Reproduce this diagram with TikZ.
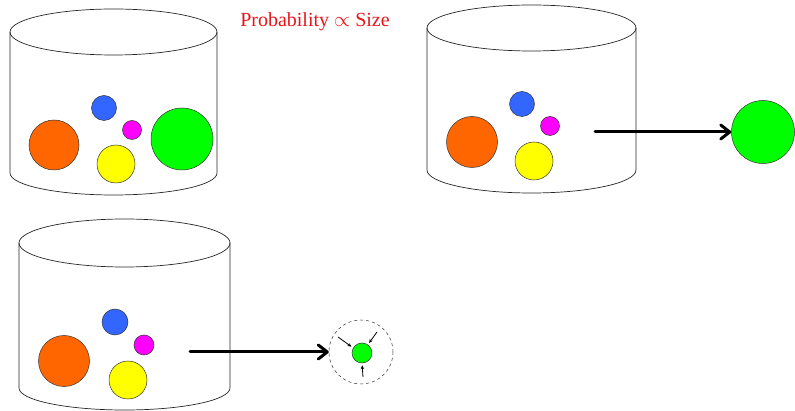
\documentclass[tikz,border=0pt]{standalone}
\usepackage{fontspec}
\setmainfont{Liberation Serif}
\usetikzlibrary{arrows.meta}

\definecolor{ballorange}{HTML}{FF6600}
\definecolor{ballblue}{HTML}{3366FF}
\definecolor{ballmagenta}{HTML}{FF00FF}
\definecolor{ballyellow}{HTML}{FFFF00}
\definecolor{ballgreen}{HTML}{00FF00}
\definecolor{titlered}{HTML}{E8141B}

\tikzset{
  jar/.style={draw=black!85, line width=0.7pt},
  ball/.style={circle, draw=black!80, line width=0.5pt, inner sep=0pt},
  pick/.style={line width=3pt, line cap=round, -{Straight Barb[length=9pt, width=14pt, line cap=round, line join=round]}},
  squeeze/.style={line width=0.8pt, -{Stealth[length=4pt, width=3.5pt]}}
}

\begin{document}
\begin{tikzpicture}[x=1pt, y=-1pt]
 \useasboundingbox (0,0) rectangle (795,411);
 % urn with all five balls
 \draw[jar] (113.5,32) ellipse [x radius=103.5, y radius=23];
 \draw[jar] (10,32) -- (10,173) arc[start angle=180, end angle=0, x radius=103.5, y radius=22] -- (217,32);
 \node[ball, fill=ballorange, minimum size=50pt] (orangeA) at (54,145) {};
 \node[ball, fill=ballblue, minimum size=25pt] (blueA) at (104,108) {};
 \node[ball, fill=ballmagenta, minimum size=19pt] (magentaA) at (132,130) {};
 \node[ball, fill=ballyellow, minimum size=38pt] (yellowA) at (116,164) {};
 \node[ball, fill=ballgreen, minimum size=62pt] (greenA) at (182,139) {};
 \node[text=titlered, font=\fontsize{20}{24}\selectfont] (title) at (315,22) {Probability $\propto$ Size};
 % big ball drawn out
 \draw[jar] (531.5,28) ellipse [x radius=104.5, y radius=23];
 \draw[jar] (427,28) -- (427,170) arc[start angle=180, end angle=0, x radius=104.5, y radius=23] -- (636,28);
 \node[ball, fill=ballblue, minimum size=25pt] (blueB) at (522,104) {};
 \node[ball, fill=ballmagenta, minimum size=19pt] (magentaB) at (550,126) {};
 \node[ball, fill=ballorange, minimum size=51pt] (orangeB) at (472,142) {};
 \node[ball, fill=ballyellow, minimum size=38pt] (yellowB) at (534,161) {};
 \node[ball, fill=ballgreen, minimum size=63pt] (greenB) at (763,132) {};
 \coordinate (startB) at (595,132);
 \draw[pick] (startB) -- (greenB.west);
 % ball shrunk after drawing
 \draw[jar] (124.5,243) ellipse [x radius=105.5, y radius=24];
 \draw[jar] (19,243) -- (19,388) arc[start angle=180, end angle=0, x radius=105.5, y radius=22] -- (230,243);
 \node[ball, fill=ballblue, minimum size=26pt] (blueC) at (115,322) {};
 \node[ball, fill=ballmagenta, minimum size=20pt] (magentaC) at (144,345) {};
 \node[ball, fill=ballorange, minimum size=51pt] (orangeC) at (64,361) {};
 \node[ball, fill=ballyellow, minimum size=38pt] (yellowC) at (128,380) {};
 \node[circle, draw=black!80, dashed, line width=0.5pt, minimum size=64pt, inner sep=0pt] (ring) at (361,352) {};
 \node[ball, fill=ballgreen, minimum size=20pt] (greenC) at (362,353) {};
 \coordinate (startC) at (190,352);
 \draw[pick] (startC) -- (ring.west);
 \coordinate (pushA) at (338,337);
 \coordinate (pushB) at (377,332);
 \coordinate (pushC) at (363,377);
 \draw[squeeze, shorten >=2pt] (pushA) -- (greenC.150);
 \draw[squeeze, shorten >=2pt] (pushB) -- (greenC.55);
 \draw[squeeze, shorten >=2pt] (pushC) -- (greenC.south);
\end{tikzpicture}
\end{document}
